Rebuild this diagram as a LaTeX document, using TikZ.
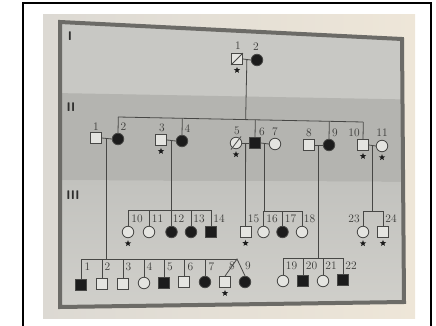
\documentclass[tikz,border=0pt]{standalone}
\usetikzlibrary{shapes.geometric,calc}
\definecolor{pageL}{HTML}{DCD9D3}
\definecolor{pageR}{HTML}{EEE6D8}
\definecolor{bandI}{HTML}{C8C8C4}
\definecolor{bandII}{HTML}{B4B4B0}
\definecolor{bandIIIa}{HTML}{C2C2BE}
\definecolor{bandIIIb}{HTML}{D2D1CC}
\definecolor{boxc}{HTML}{6C6B67}
\definecolor{linec}{HTML}{474745}
\definecolor{unaff}{HTML}{E4E4E0}
\definecolor{affc}{HTML}{1C1C1C}
\definecolor{textc}{HTML}{3A3A38}
\tikzset{
  ind/.style={draw=linec, line width=0.8pt, inner sep=0pt, fill=unaff},
  male/.style={ind, rectangle, minimum size=11pt},
  female/.style={ind, circle, minimum size=11.5pt},
  aff/.style={fill=affc},
  lbl/.style={font=\fontsize{11.5}{12}\selectfont, text=textc, inner sep=0pt},
  genlbl/.style={font=\fontsize{12.5}{13}\selectfont\sffamily\bfseries, text=textc!80!black, inner sep=0pt},
  starmk/.style={star, star points=5, star point ratio=2.3, fill=affc, draw=none, minimum size=6.5pt, inner sep=0pt},
  ln/.style={draw=linec, line width=0.8pt}
}
\begin{document}
\begin{tikzpicture}[x=1pt,y=-1pt]
\useasboundingbox (0,0) rectangle (436,326);
% photo page
\shade[left color=pageL, right color=pageR] (43,15) rectangle (415,318);
% outer frame
\draw[black, line width=1.6pt] (23,326) -- (23,3) -- (431,3) -- (431,326);
% gray box with bands
\begin{scope}
\clip (60,22) -- (402,39) -- (404,302) -- (60,307) -- cycle;
\fill[bandI] (0,0) rectangle (436,326);
\fill[bandII] (0,92) -- (436,100) -- (436,182) -- (0,180) -- cycle;
\shade[top color=bandIIIa, bottom color=bandIIIb] (0,180) -- (436,182) -- (436,326) -- (0,326) -- cycle;
\end{scope}
\draw[boxc, line width=4pt, line join=miter] (60,22) -- (402,39) -- (404,302) -- (60,307) -- cycle;

% generation labels
\node[genlbl] (gI) at (70,36) {I};
\node[genlbl] (gII) at (71,107) {II};
\node[genlbl] (gIII) at (73,195) {III};

% ---------- Generation I ----------
\node[male] (I1) at (237,59) {};
\draw[ln] (I1.south west) -- (I1.north east);
\node[female, aff] (I2) at (257,60) {};
\node[lbl] (lI1) at (238,46) {1};
\node[lbl] (lI2) at (256,47) {2};
\node[starmk, anchor=north] (sI1) at ([yshift=-1.5pt]I1.south) {};

% ---------- Generation II ----------
\node[male] (II1) at (96,138) {};
\node[female, aff] (II2) at (118,139) {};
\node[male] (II3) at (161,140) {};
\node[female, aff] (II4) at (182,141) {};
\node[female] (II5) at (236,143) {};
\draw[ln] ($(II5)+(-5,6.5)$) -- ($(II5)+(5,-6.5)$);
\node[male, aff] (II6) at (255,143) {};
\node[female] (II7) at (275,144) {};
\node[male] (II8) at (309,145) {};
\node[female, aff] (II9) at (329,145) {};
\node[male] (II10) at (363,145) {};
\node[female] (II11) at (382,146) {};

\node[lbl] (lII1) at (96,127) {1};
\node[lbl] (lII2) at (123.5,127) {2};
\node[lbl] (lII3) at (162,128) {3};
\node[lbl] (lII4) at (187.5,129) {4};
\node[lbl] (lII5) at (237,131) {5};
\node[lbl] (lII6) at (262,132) {6};
\node[lbl] (lII7) at (275,132) {7};
\node[lbl] (lII8) at (309,133) {8};
\node[lbl] (lII9) at (335,133) {9};
\node[lbl] (lII10) at (354,133) {10};
\node[lbl] (lII11) at (382,133) {11};

\node[starmk, anchor=north] (sII3) at ([yshift=-1.5pt]II3.south) {};
\node[starmk, anchor=north] (sII5) at ([yshift=-1.5pt]II5.south) {};
\node[starmk, anchor=north] (sII10) at ([yshift=-1.5pt]II10.south) {};
\node[starmk, anchor=north] (sII11) at ([yshift=-1.5pt]II11.south) {};

% ---------- Generation III (upper row) ----------
\node[female] (III10) at (128,232) {};
\node[female] (III11) at (149,232) {};
\node[female, aff] (III12) at (171.5,232) {};
\node[female, aff] (III13) at (191,232) {};
\node[male, aff] (III14) at (211,232) {};
\node[male] (III15) at (245.5,232) {};
\node[female] (III16) at (263.5,232) {};
\node[female, aff] (III17) at (282.5,232) {};
\node[female] (III18) at (302,232) {};
\node[female] (III23) at (363,232) {};
\node[male] (III24) at (383,232) {};

\node[lbl] (lIII10) at (137,219) {10};
\node[lbl] (lIII11) at (157.5,219) {11};
\node[lbl] (lIII12) at (178.5,219) {12};
\node[lbl] (lIII13) at (199,219) {13};
\node[lbl] (lIII14) at (219,219) {14};
\node[lbl] (lIII15) at (253.5,219) {15};
\node[lbl] (lIII16) at (272,219) {16};
\node[lbl] (lIII17) at (290.5,219) {17};
\node[lbl] (lIII18) at (309.5,219) {18};
\node[lbl] (lIII23) at (354,219) {23};
\node[lbl] (lIII24) at (391,219) {24};

\node[starmk, anchor=north] (sIII10) at ([yshift=-1.5pt]III10.south) {};
\node[starmk, anchor=north] (sIII15) at ([yshift=-1.5pt]III15.south) {};
\node[starmk, anchor=north] (sIII23) at ([yshift=-1.5pt]III23.south) {};
\node[starmk, anchor=north] (sIII24) at ([yshift=-1.5pt]III24.south) {};

% ---------- Generation III (lower row) ----------
\node[male, aff] (III1) at (81,285) {};
\node[male] (III2) at (102,284) {};
\node[male] (III3) at (123,283.5) {};
\node[female] (III4) at (144,283) {};
\node[male, aff] (III5) at (164,282.5) {};
\node[male] (III6) at (184,282) {};
\node[female, aff] (III7) at (205,282) {};
\node[male] (III8) at (225,282) {};
\node[female, aff] (III9) at (245,282) {};
\node[female] (III19) at (283,281) {};
\node[male, aff] (III20) at (303,281) {};
\node[female] (III21) at (323,281) {};
\node[male, aff] (III22) at (343,280) {};

\node[lbl] (lIII1) at (87.5,267) {1};
\node[lbl] (lIII2) at (107.5,267) {2};
\node[lbl] (lIII3) at (128.5,267) {3};
\node[lbl] (lIII4) at (149.5,267) {4};
\node[lbl] (lIII5) at (170,267) {5};
\node[lbl] (lIII6) at (190.5,267) {6};
\node[lbl] (lIII7) at (211.5,266.5) {7};
\node[lbl] (lIII8) at (232,266) {8};
\node[lbl] (lIII9) at (248,266) {9};
\node[lbl] (lIII19) at (291.5,266) {19};
\node[lbl] (lIII20) at (311.5,266) {20};
\node[lbl] (lIII21) at (331,266) {21};
\node[lbl] (lIII22) at (351,266) {22};

\node[starmk, anchor=north] (sIII8) at ([yshift=-1.5pt]III8.south) {};

% ---------- connectors ----------
% generation I
\draw[ln] (I1.east) -- (I2.west);
\coordinate (mI) at ($(I1.east)!0.5!(I2.west)$);
\coordinate (sL2) at (118,117);
\coordinate (sR2) at (363,122);
\draw[ln] (sL2) -- (sR2);
\draw[ln] (mI) -- ($(sL2)!(mI)!(sR2)$);
\foreach \c in {II2,II4,II6,II9,II10}
  \draw[ln] (\c.north) -- ($(sL2)!(\c.north)!(sR2)$);

% generation II couples
\draw[ln] (II1.east) -- (II2.west);
\draw[ln] (II3.east) -- (II4.west);
\draw[ln] (II5.east) -- (II6.west);
\draw[ln] (II6.east) -- (II7.west);
\draw[ln] (II8.east) -- (II9.west);
\draw[ln] (II10.east) -- (II11.west);
\coordinate (m12) at ($(II1.east)!0.5!(II2.west)$);
\coordinate (m34) at ($(II3.east)!0.5!(II4.west)$);
\coordinate (m56) at ($(II5.east)!0.5!(II6.west)$);
\coordinate (m67) at ($(II6.east)!0.5!(II7.west)$);
\coordinate (m89) at ($(II8.east)!0.5!(II9.west)$);
\coordinate (m1011) at ($(II10.east)!0.5!(II11.west)$);

% sibship levels
\coordinate (lvU) at (0,210);
\coordinate (lvU2) at (0,211);
\coordinate (tw) at (237,259);
\coordinate (lvL2) at (0,258);

% children of II-3 x II-4
\draw[ln] (III10.north) |- (lvU -| III14.north) -- (III14.north);
\foreach \c in {III11,III12,III13}
  \draw[ln] (\c.north) -- (\c.north |- lvU);
\draw[ln] (m34) -- (m34 |- lvU);

% child of II-5 x II-6
\draw[ln] (m56) -- (III15.north);

% children of II-6 x II-7
\draw[ln] (III16.north) |- (lvU2 -| III18.north) -- (III18.north);
\draw[ln] (III17.north) -- (III17.north |- lvU2);
\draw[ln] (m67) -- (m67 |- lvU2);

% children of II-10 x II-11
\draw[ln] (III23.north) |- (lvU2 -| III24.north) -- (III24.north);
\draw[ln] (m1011) -- (m1011 |- lvU2);

% children of II-1 x II-2
\draw[ln] (III1.north) |- (tw);
\foreach \c in {III2,III3,III4,III5,III6,III7}
  \draw[ln] (\c.north) -- (\c.north |- tw);
\draw[ln] (III8.north) -- (tw) -- (III9.north);
\draw[ln] (m12) -- (m12 |- tw);

% children of II-8 x II-9
\draw[ln] (III19.north) |- (lvL2 -| III22.north) -- (III22.north);
\foreach \c in {III20,III21}
  \draw[ln] (\c.north) -- (\c.north |- lvL2);
\draw[ln] (m89) -- (m89 |- lvL2);
\end{tikzpicture}
\end{document}
